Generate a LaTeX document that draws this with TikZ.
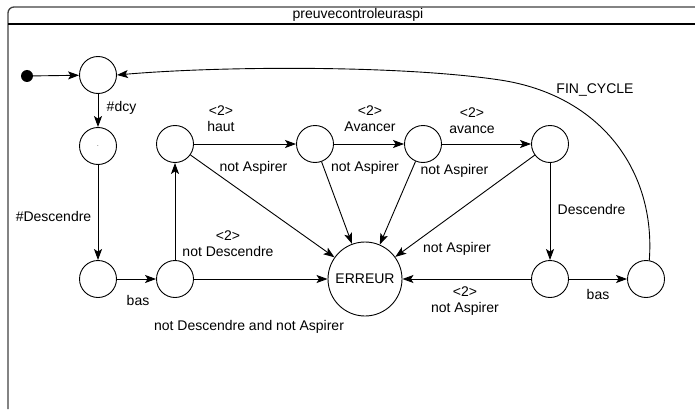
\documentclass[tikz,border=0pt]{standalone}
\usepackage{fontspec}
\setmainfont{Liberation Sans}
\usetikzlibrary{arrows.meta}
\begin{document}
\begin{tikzpicture}[x=1pt,y=-1pt,
  state/.style={circle,draw,line width=0.9pt,minimum size=37pt,inner sep=0pt},
  lbl/.style={font=\fontsize{14}{16}\selectfont,inner sep=0pt,align=center},
  tr/.style={draw,line width=0.9pt,-{Stealth[length=11pt,width=8pt,inset=2.5pt]}},
  ]
\useasboundingbox (0,0) rectangle (695,409);
% frame
\draw[line width=1.3pt,black!75,rounded corners=6pt] (695,7) -- (8,7) -- (8,409);
\draw[line width=2pt] (8,24) -- (695,24);
\node[lbl] (title) at (358,15) {preuvecontroleuraspi};
% states
\node[circle,fill,inner sep=0pt,minimum size=12pt] (init) at (27,76) {};
\node[state] (s0) at (98,75) {};
\node[state,font=\fontsize{6}{6}\selectfont] (s1) at (98,146) {.};
\node[state] (s2) at (98,279) {};
\node[state] (s3) at (175,279) {};
\node[state] (s4) at (175,144) {};
\node[state] (s5) at (315,144) {};
\node[state] (s6) at (423,144) {};
\node[state] (s7) at (550,144) {};
\node[state,minimum size=74pt,font=\fontsize{14}{16}\selectfont] (err) at (365,279) {ERREUR};
\node[state] (s8) at (550,279) {};
\node[state] (s9) at (646,279) {};
% transitions
\draw[tr] (init) -- (s0);
\draw[tr] (s0) -- (s1);
\draw[tr] (s1) -- (s2);
\draw[tr] (s2) -- (s3);
\draw[tr] (s3) -- (s4);
\draw[tr] (s3) -- (err);
\draw[tr] (s4) -- (s5);
\draw[tr] (s4) -- (err);
\draw[tr] (s5) -- (s6);
\draw[tr] (s5) -- (err);
\draw[tr] (s6) -- (s7);
\draw[tr] (s6) -- (err);
\draw[tr] (s7) -- (err);
\draw[tr] (s7) -- (s8);
\draw[tr] (s8) -- (err);
\draw[tr] (s8) -- (s9);
\draw[tr] (s9.80) .. controls (656,170) and (600,95) .. (500,80) .. controls (400,65) and (220,66) .. (s0.east);
% labels
\node[lbl] (l1) at (121.5,108) {\#dcy};
\node[lbl] (l2) at (53.5,216) {\#Descendre};
\node[lbl] (l3) at (221,119) {<2>\\haut};
\node[lbl] (l4) at (253.5,168) {not Aspirer};
\node[lbl] (l5) at (370,119) {<2>\\Avancer};
\node[lbl] (l6) at (365,168) {not Aspirer};
\node[lbl] (l7) at (472,121) {<2>\\avance};
\node[lbl] (l8) at (454.5,171) {not Aspirer};
\node[lbl] (l9) at (457,249) {not Aspirer};
\node[lbl] (l10) at (591.5,209) {Descendre};
\node[lbl] (l11) at (595,90) {FIN\_CYCLE};
\node[lbl] (l12) at (465,301) {<2>\\not Aspirer};
\node[lbl] (l13) at (598,294) {bas};
\node[lbl] (l14) at (138,300) {bas};
\node[lbl] (l15) at (228,243.5) {<2>\\not Descendre};
\node[lbl] (l16) at (249,327) {not Descendre and not Aspirer};
\end{tikzpicture}
\end{document}
